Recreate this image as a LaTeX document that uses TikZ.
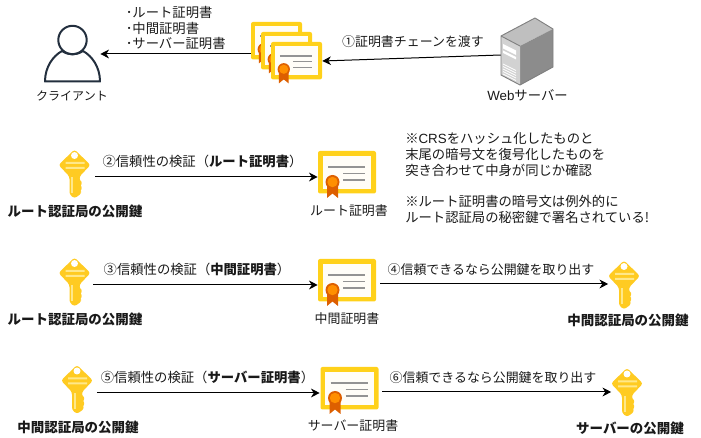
\documentclass[tikz,border=0pt]{standalone}
\usepackage{fontspec}
\setmainfont{Noto Sans CJK JP}
\newfontfamily\la{Liberation Sans}
\usetikzlibrary{arrows.meta}
\definecolor{certy}{HTML}{FFD11A}
\definecolor{keyy}{HTML}{FFCB22}
\definecolor{keyl}{HTML}{FFE88A}
\definecolor{medalo}{HTML}{FF8F00}
\definecolor{medald}{HTML}{DD5F00}
\definecolor{navy}{HTML}{232F3E}
\tikzset{
  x=0.75pt,y=-0.75pt,
  txt/.style={inner sep=0pt,font=\fontsize{9.7pt}{11.8pt}\selectfont,align=left,text=black!90},
  wtxt/.style={txt,font=\fontsize{10pt}{11.8pt}\selectfont},
  btxt/.style={txt,font=\fontsize{10.1pt}{11.8pt}\selectfont\bfseries},
  conn/.style={draw=black,line width=0.75pt,-{Stealth[length=6.5pt,width=6.5pt,inset=2pt]}},
  certspot/.style={inner sep=0pt,minimum width=43.5pt,minimum height=31.5pt},
  chainspot/.style={inner sep=0pt,minimum width=38.25pt,minimum height=28.5pt},
  keyspot/.style={inner sep=0pt,minimum width=23.25pt,minimum height=36pt},
  pics/cert/.style={code={
    \fill[certy,rounded corners=1.5pt] (0,0) rectangle (58,42.5);
    \fill[white,opacity=.97] (4.6,4.6) rectangle (53.4,37.9);
    \draw[gray!85,line width=1pt] (10,16)--(47,16) (25,22.5)--(47,22.5) (25,29)--(47,29);
    \fill[medald] (9,32)--(9,47)--(14.5,42.5)--(20,47)--(20,32)--cycle;
    \fill[medald] (14.5,31) circle (7);
    \fill[medalo] (14.5,31) circle (5.2);
  }},
  pics/key/.style={code={
    \fill[keyy,rounded corners=2pt] (0,0)--(16,15.5)--(5,27)--(5,31)--(8.5,33.5)--(5,36)--(8.5,38.5)--(5,41)--(7.5,43.5)--(0,49)--(-5,45)--(-5,27)--(-16,15.5)--cycle;
    \fill[white] (0,6) circle (3.5);
    \fill[keyl] (-9,12.5) rectangle (10,14.5) (-9,17.5) rectangle (10,19.5);
    \fill[keyl] (-3.5,28) rectangle (-1.5,44);
  }},
}
\begin{document}
\begin{tikzpicture}
\useasboundingbox (0,0) rectangle (701,438);
% person
\node[inner sep=0pt,minimum width=41.25pt,minimum height=42pt] (person) at (72.5,54) {};
\draw[navy,line width=1.5pt] (72.5,40) circle (14.2);
\draw[navy,line width=1.5pt,line join=round] (45,81.5)--(100,81.5)
  .. controls (100,67) and (92,56) .. (83,51)
  .. controls (76,55.5) and (69,55.5) .. (62,51)
  .. controls (53,56) and (45,67) .. (45,81.5) -- cycle;
\node[txt,font=\fontsize{9pt}{11pt}\selectfont,anchor=center] (clientlabel) at (72,96) {クライアント};
% chain
\node[chainspot] (chainA) at (276.5,41) {};
\node[chainspot] (chainC) at (296.5,61) {};
\pic[scale=.88] at (251,22) {cert};
\pic[scale=.88] at (261,32) {cert};
\pic[scale=.88] at (271,42) {cert};
% server
\node[inner sep=0pt,minimum width=39pt,minimum height=50pt] (server) at (527,55) {};
\fill[gray!50!white] (501,36)--(535,18)--(553,29)--(520,46)--cycle;
\fill[gray!90!white] (520,46)--(553,29)--(553,67)--(520,85)--cycle;
\fill[gray!35!white] (501,36)--(520,46)--(520,85)--(501,75)--cycle;
\draw[gray,line width=.7pt,line join=round] (501,36)--(535,18)--(553,29)--(553,67)--(520,85)--(501,75)--cycle (501,36)--(520,46);
\fill[white] (503,44)--(516,50.5)--(516,55)--(503,48.5)--cycle (503,50.5)--(516,57)--(516,59.5)--(503,53)--cycle;
\foreach \d in {0,2.5,5,7.5,10}{\draw[white,line width=.6pt] (503,64+\d)--(516,70.5+\d);}
\node[wtxt,anchor=center] (serverlabel) at (527.5,95) {{\la Web}サーバー};
% top connectors
\draw[conn] (server.west) -- (chainC.east);
\draw[conn] (chainA.west |- 0,54) coordinate (chainout) -- (person.east |- chainout);
\node[wtxt,anchor=west] (certlist) at (125.5,28) {･ルート証明書\\･中間証明書\\･サーバー証明書};
\node[txt,anchor=center] (step1) at (413,42) {①証明書チェーンを渡す};
% row 2
\node[keyspot] (k1) at (74.5,177) {};
\pic at (74.5,149.5) {key};
\node[certspot] (c1) at (347,177) {};
\pic at (318,151) {cert};
\draw[conn] (k1.east) ++(5,0) coordinate (k1o) -- (c1.west);
\node[wtxt,anchor=center] (step2) at (202.5,161) {②信頼性の検証（{\bfseries ルート証明書}）};
\node[btxt,anchor=center] (k1l) at (75,211) {ルート認証局の公開鍵};
\node[txt,anchor=center] (c1l) at (349,211) {ルート証明書};
\node[wtxt,anchor=north west] (note) at (405,132.5) {※{\la CRS}をハッシュ化したものと\\末尾の暗号文を復号化したものを\\突き合わせて中身が同じか確認\\\mbox{}\\※ルート証明書の暗号文は例外的に\\ルート認証局の秘密鍵で署名されている!};
% row 3
\node[keyspot] (k2) at (74.5,285) {};
\pic at (74.5,257.5) {key};
\node[certspot] (c2) at (347,285) {};
\pic at (318,259) {cert};
\draw[conn] (k2.east) ++(3,0) coordinate (k2o) -- (c2.west);
\node[wtxt,anchor=center] (step3) at (197,269) {③信頼性の検証（{\bfseries 中間証明書}）};
\node[btxt,anchor=center] (k2l) at (75,319.5) {ルート認証局の公開鍵};
\node[txt,anchor=center] (c2l) at (347,319) {中間証明書};
\node[keyspot] (k3) at (624,284) {};
\pic at (624,260.5) {key};
\draw[conn] (c2.east) ++(4,-1) coordinate (c2o) -- (k3.west);
\node[txt,anchor=center] (step4) at (491,270) {④信頼できるなら公開鍵を取り出す};
\node[btxt,anchor=center] (k3l) at (628,320) {中間認証局の公開鍵};
% row 4
\node[keyspot] (k4) at (77,393) {};
\pic at (77,365) {key};
\node[certspot] (c3) at (349,393) {};
\pic at (320.5,367) {cert};
\draw[conn] (k4.east) ++(4,0) coordinate (k4o) -- (c3.west);
\node[wtxt,anchor=center] (step5) at (207.5,377) {⑤信頼性の検証（{\bfseries サーバー証明書}）};
\node[btxt,anchor=center] (k4l) at (78,427) {中間認証局の公開鍵};
\node[txt,anchor=center] (c3l) at (353,426) {サーバー証明書};
\node[keyspot] (k5) at (627,392) {};
\pic at (627,368) {key};
\draw[conn] (c3.east) ++(4,-1) coordinate (c3o) -- (k5.west);
\node[txt,anchor=center] (step6) at (493,378) {⑥信頼できるなら公開鍵を取り出す};
\node[btxt,anchor=center] (k5l) at (630,428) {サーバーの公開鍵};
\end{tikzpicture}
\end{document}
